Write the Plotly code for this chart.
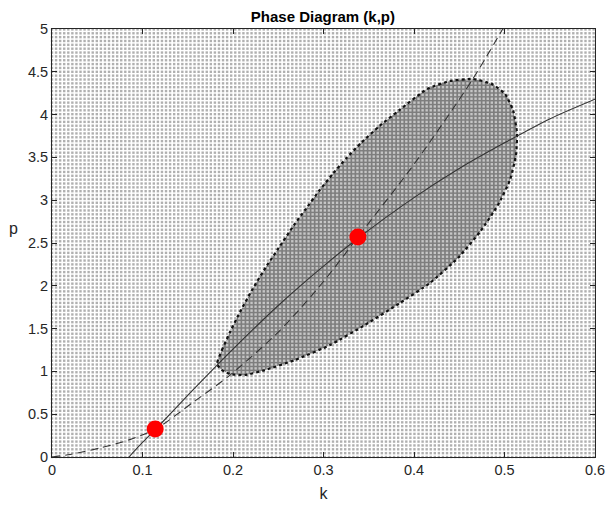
import numpy as np
import plotly.graph_objects as go

# k-nullcline (solid) and p-nullcline (dashed)
k_solid = [0.085, 0.10, 0.115, 0.15, 0.20, 0.25, 0.30, 0.34, 0.40, 0.45, 0.50, 0.55, 0.60]
p_solid = [0.00, 0.17, 0.33, 0.72, 1.26, 1.77, 2.23, 2.57, 3.03, 3.37, 3.67, 3.95, 4.18]

k_dash = [0.0, 0.02, 0.053, 0.085, 0.115, 0.156, 0.197, 0.252, 0.30, 0.338, 0.40, 0.464, 0.498]
p_dash = [0.0, 0.03, 0.105, 0.20, 0.33, 0.64, 0.96, 1.48, 2.05, 2.57, 3.42, 4.40, 5.00]

# boundary of the basin (closed loop, starting at lower-left tip)
k_basin = [0.1823, 0.1878, 0.1967, 0.2077, 0.2210, 0.2365, 0.2541, 0.2674, 0.2796, 0.2950,
           0.3110, 0.3254, 0.3414, 0.3619, 0.3840, 0.4144, 0.4398, 0.4652, 0.4862, 0.5006,
           0.5094, 0.5138, 0.5127, 0.5061, 0.4928, 0.4729, 0.4486, 0.4177, 0.3845, 0.3459,
           0.3072, 0.2685, 0.2354, 0.2133, 0.1967, 0.1878, 0.1823]
p_basin = [1.086, 1.250, 1.460, 1.694, 1.951, 2.220, 2.500, 2.710, 2.886, 3.107,
           3.318, 3.493, 3.668, 3.867, 4.054, 4.299, 4.393, 4.416, 4.357, 4.241,
           4.054, 3.785, 3.528, 3.236, 2.944, 2.629, 2.325, 2.033, 1.799, 1.542,
           1.308, 1.133, 1.016, 0.958, 0.970, 1.016, 1.086]

# steady states
k_eq = [0.114, 0.338]
p_eq = [0.327, 2.57]

x_ticks = [0, 0.1, 0.2, 0.3, 0.4, 0.5, 0.6]
x_tick_text = ["0", "0.1", "0.2", "0.3", "0.4", "0.5", "0.6"]
y_ticks = [0, 0.5, 1, 1.5, 2, 2.5, 3, 3.5, 4, 4.5, 5]
y_tick_text = ["0", "0.5", "1", "1.5", "2", "2.5", "3", "3.5", "4", "4.5", "5"]

# evaluation mesh over the (k, p) plane
kk, pp = np.meshgrid(np.arange(0, 0.6 + 1e-9, 0.0045), np.arange(0, 5 + 1e-9, 0.045))
kk = kk.ravel()
pp = pp.ravel()


def inside(xs, ys, px, py):
    px = np.asarray(px)
    py = np.asarray(py)
    res = np.zeros(xs.shape, dtype=bool)
    for i in range(len(px) - 1):
        x1, y1, x2, y2 = px[i], py[i], px[i + 1], py[i + 1]
        cond = (y1 > ys) != (y2 > ys)
        with np.errstate(divide="ignore", invalid="ignore"):
            xint = x1 + (ys - y1) * (x2 - x1) / (y2 - y1)
        res ^= cond & (xs < xint)
    return res


mask = inside(kk, pp, k_basin, p_basin)

fig = go.Figure()

fig.add_trace(go.Scatter(
    x=kk[~mask], y=pp[~mask], mode="markers",
    marker=dict(symbol="square", size=2.4, color="#b0b0b0", line=dict(width=0)),
    hoverinfo="skip", showlegend=False, cliponaxis=False))

fig.add_trace(go.Scatter(
    x=k_basin, y=p_basin, mode="lines", fill="toself", fillcolor="#7e7e7e",
    line=dict(color="#7e7e7e", width=0, shape="spline", smoothing=0.5),
    hoverinfo="skip", showlegend=False))

fig.add_trace(go.Scatter(
    x=kk[mask], y=pp[mask], mode="markers",
    marker=dict(symbol="square", size=2.4, color="#c6c6c6", line=dict(width=0)),
    hoverinfo="skip", showlegend=False))

fig.add_trace(go.Scatter(
    x=k_basin, y=p_basin, mode="lines",
    line=dict(color="#111111", width=2.2, dash="dot", shape="spline", smoothing=0.5),
    hoverinfo="skip", showlegend=False))

fig.add_trace(go.Scatter(
    x=k_solid, y=p_solid, mode="lines",
    line=dict(color="#333333", width=1.1, shape="spline", smoothing=0.8),
    showlegend=False))

fig.add_trace(go.Scatter(
    x=k_dash, y=p_dash, mode="lines",
    line=dict(color="#333333", width=1.1, dash="8px,5px", shape="spline", smoothing=0.8),
    showlegend=False))

fig.add_trace(go.Scatter(
    x=k_eq, y=p_eq, mode="markers",
    marker=dict(color="#ff0000", size=17, line=dict(width=0)),
    showlegend=False))

axis_common = dict(
    showgrid=False, zeroline=False, showline=True, mirror="ticks",
    linecolor="#262626", linewidth=1, ticks="inside", ticklen=5,
    tickcolor="#262626", automargin=False,
    tickfont=dict(family="Liberation Sans, Arial", size=14.5, color="#262626"),
)

fig.update_layout(
    width=607, height=512,
    margin=dict(l=52, r=12, t=29, b=55),
    paper_bgcolor="white", plot_bgcolor="white",
    title=dict(text="<b>Phase Diagram (k,p)</b>", x=0.532, xanchor="center", y=0.978, yanchor="top",
               font=dict(family="Liberation Sans, Arial", size=15, color="black")),
    xaxis=dict(range=[0, 0.6], tickvals=x_ticks, ticktext=x_tick_text,
               title=dict(text="k", font=dict(family="Liberation Sans, Arial", size=16, color="#262626"),
                          standoff=10), **axis_common),
    yaxis=dict(range=[0, 5], tickvals=y_ticks, ticktext=y_tick_text, **axis_common),
    annotations=[dict(text="p", xref="paper", yref="paper", x=-0.083, y=0.535, showarrow=False,
                      font=dict(family="Liberation Sans, Arial", size=16, color="#262626"))],
)

fig.write_html("out.html")
